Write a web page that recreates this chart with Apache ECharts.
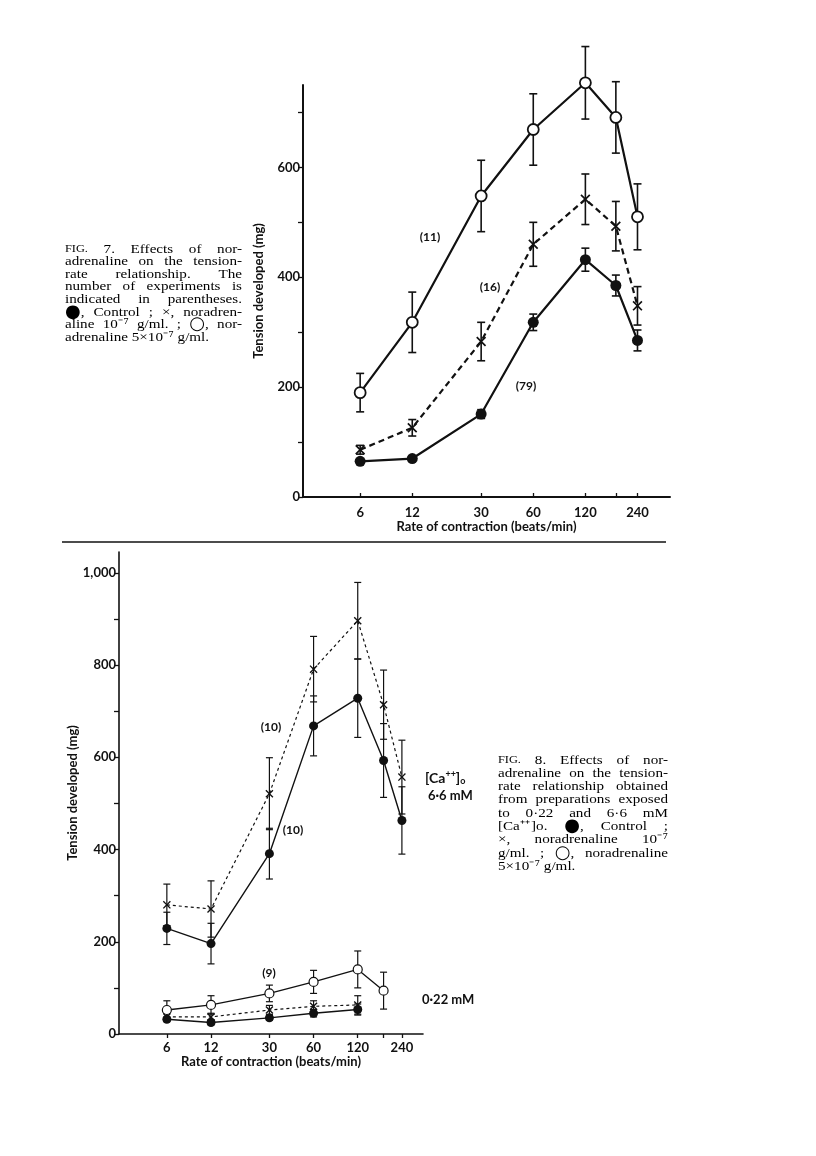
<!DOCTYPE html>
<html><head><meta charset="utf-8">
<script src="https://cdn.jsdelivr.net/npm/echarts@6/dist/echarts.min.js"></script>
<style>html,body{margin:0;padding:0;background:#fff}#c{width:816px;height:1156px}</style>
</head><body><div id="c"></div>
<script>
// ---------- DATA ----------
const rates = [6, 12, 30, 60, 120, 180, 240];
const xTickLabels = [6, 12, 30, 60, 120, 240];
const yTicksFig7 = [0, 100, 200, 300, 400, 500, 600, 700];
const yLabelsFig7 = [0, 200, 400, 600];
const yTicksFig8 = [0, 100, 200, 300, 400, 500, 600, 700, 800, 900, 1000];
const yLabelsFig8 = [0, 200, 400, 600, 800, 1000];

// Fig. 7
const f7Control = [65, 70, 151, 318, 432, 385, 285];
const f7ControlErr = [4, 4, 8, 15, 21, 19, 19];
const f7NA1 = [86, 126, 283, 460, 542, 493, 348];
const f7NA1Err = [8, 15, 35, 40, 46, 45, 35];
const f7NA5 = [190, 318, 548, 669, 754, 691, 510];
const f7NA5Err = [35, 55, 65, 65, 66, 65, 60];

// Fig. 8, [Ca++]o 6.6 mM
const f8HiControl = [229, 196, 391, 668, 728, 593, 463];
const f8HiControlErr = [35, 44, 55, 65, 85, 80, 73];
const f8HiNA1 = [280, 271, 521, 791, 896, 714, 557];
const f8HiNA1Err = [45, 61, 78, 71, 83, 75, 80];
// Fig. 8, [Ca++]o 0.22 mM
const f8LoNA5 = [52, 63, 88, 113, 140, 94];
const f8LoNA5Err = [20, 20, 18, 25, 40, 40];
const f8LoNA1 = [37, 37, 52, 60, 63];
const f8LoNA1Err = [8, 8, 10, 12, 20];
const f8LoControl = [32, 25, 35, 45, 53];
const f8LoControlErr = [5, 5, 5, 8, 12];

const fig7Caption = [
  "FIG. 7. Effects of nor-",
  "adrenaline on the tension-",
  "rate relationship. The",
  "number of experiments is",
  "indicated in parentheses.",
  "●, Control ; ×, noradren-",
  "aline 10⁻⁷ g/ml. ; ○, nor-",
  "adrenaline 5×10⁻⁷ g/ml."
];
const fig8Caption = [
  "FIG. 8. Effects of nor-",
  "adrenaline on the tension-",
  "rate relationship obtained",
  "from preparations exposed",
  "to 0·22 and 6·6 mM",
  "[Ca⁺⁺]o. ●, Control ;",
  "×, noradrenaline 10⁻⁷",
  "g/ml. ; ○, noradrenaline",
  "5×10⁻⁷ g/ml."
];

// ---------- BUILD ----------
const INK = '#111';
const L = v => Math.log10(v);
const pts = vals => vals.map((v, i) => [L(rates[i]), v]);
const errPts = (vals, errs) => vals.map((v, i) => [L(rates[i]), v, errs[i]]);
const CROSS = 'path://M0,1.2 L1.2,0 L5,3.8 L8.8,0 L10,1.2 L6.2,5 L10,8.8 L8.8,10 L5,6.2 L1.2,10 L0,8.8 L3.8,5 Z';

function errSeries(vals, errs, xi, cap, lw) {
  return {
    type: 'custom', xAxisIndex: xi, yAxisIndex: xi, clip: false, z: 1, silent: true,
    data: errPts(vals, errs), encode: { x: 0, y: 1 },
    renderItem: (params, api) => {
      const x = api.value(0), y = api.value(1), e = api.value(2);
      const t = api.coord([x, y + e]), b = api.coord([x, y - e]);
      const h = cap / 2, st = { stroke: INK, lineWidth: lw };
      return { type: 'group', children: [
        { type: 'line', shape: { x1: t[0], y1: t[1], x2: b[0], y2: b[1] }, style: st },
        { type: 'line', shape: { x1: t[0] - h, y1: t[1], x2: t[0] + h, y2: t[1] }, style: st },
        { type: 'line', shape: { x1: b[0] - h, y1: b[1], x2: b[0] + h, y2: b[1] }, style: st }
      ]};
    }
  };
}
function lineSeries(vals, xi, kind, dashed, lw, size) {
  const s = {
    type: 'line', xAxisIndex: xi, yAxisIndex: xi, data: pts(vals), clip: false, z: 3,
    lineStyle: { color: INK, width: lw, type: dashed ? (xi === 0 ? [6, 4] : [3, 3]) : 'solid' },
    symbolSize: size, symbolKeepAspect: true
  };
  if (kind === 'filled') { s.symbol = 'circle'; s.itemStyle = { color: INK, borderWidth: 0 }; }
  if (kind === 'open') { s.symbol = 'circle'; s.itemStyle = { color: '#fff', borderColor: INK, borderWidth: xi === 0 ? 1.8 : 1.2 }; }
  if (kind === 'cross') { s.symbol = CROSS; s.itemStyle = { color: INK, borderWidth: 0 }; }
  return s;
}

const tickFont = { fontFamily: 'Lato', fontWeight: 'bold', fontSize: 13, color: INK };
const nameFont = { fontFamily: 'Lato', fontWeight: 'bold', fontSize: 13, color: INK };

function xAxis(gi, min, max, aw, inside, margin, gap) {
  return {
    gridIndex: gi, type: 'value', min, max,
    axisLine: { show: true, lineStyle: { color: INK, width: aw } },
    axisTick: { show: true, inside, length: 4, customValues: rates.map(L), lineStyle: { color: INK, width: 1.3 } },
    axisLabel: { customValues: xTickLabels.map(L), formatter: v => String(Math.round(Math.pow(10, v))), margin, ...tickFont },
    splitLine: { show: false },
    name: 'Rate of contraction (beats/min)', nameLocation: 'middle', nameGap: gap, nameTextStyle: nameFont
  };
}
function yAxis(gi, max, ticks, labels, aw, gap) {
  return {
    gridIndex: gi, type: 'value', min: 0, max,
    axisLine: { show: true, lineStyle: { color: INK, width: aw } },
    axisTick: { show: true, length: 5, customValues: ticks, lineStyle: { color: INK, width: 1.3 } },
    axisLabel: { customValues: labels, margin: 3, formatter: v => v.toLocaleString('en-US'), ...tickFont },
    splitLine: { show: false },
    name: 'Tension developed (mg)', nameLocation: 'middle', nameGap: gap, nameTextStyle: nameFont
  };
}

// caption text, justified, slightly widened glyphs
const measCtx = document.createElement('canvas').getContext('2d');
function captionGraphics(lines, x0, x1, y0, dy, size, sx) {
  const out = [];
  const W = x1 - x0;
  lines.forEach((line, li) => {
    const words = line.split(' ').filter(w => w.length);
    const items = words.map(w => {
      const parts = [];
      if (/^[●○]/.test(w)) {
        parts.push({ t: w[0], font: Math.round(size * 1.3) + 'px "DejaVu Sans"', s: 1 });
        if (w.length > 1) parts.push({ t: w.slice(1), font: size + 'px "Liberation Serif"', s: sx });
      } else {
        const fs = (w === 'FIG.') ? Math.round(size * 0.78) : size;
        parts.push({ t: w, font: fs + 'px "Liberation Serif"', s: sx });
      }
      let width = 0;
      parts.forEach(p => { measCtx.font = p.font; p.w = measCtx.measureText(p.t).width * p.s; width += p.w; });
      return { parts, width };
    });
    measCtx.font = size + 'px "Liberation Serif"';
    const space = measCtx.measureText(' ').width * sx;
    const total = items.reduce((a, b) => a + b.width, 0);
    const last = li === lines.length - 1;
    let gap = (!last && items.length > 1) ? (W - total) / (items.length - 1) : space;
    if (gap < space * 0.6) gap = space * 0.6;
    let x = x0;
    const y = y0 + li * dy;
    items.forEach(it => {
      let px = x;
      it.parts.forEach(p => {
        out.push({ type: 'text', x: px, y, scaleX: p.s, silent: true,
          style: { text: p.t, font: p.font, fill: '#000', verticalAlign: 'middle', align: 'left' } });
        px += p.w;
      });
      x += it.width + gap;
    });
  });
  return out;
}
function label(text, x, y, align, size) {
  return { type: 'text', x, y, silent: true,
    style: { text, font: 'bold ' + (size || 12) + 'px Lato', fill: INK, align: align || 'center', verticalAlign: 'middle' } };
}

const graphics = [
  { type: 'line', shape: { x1: 62, y1: 542, x2: 666, y2: 542 }, style: { stroke: INK, lineWidth: 1.6 } },
  label('(11)', 430, 237), label('(16)', 490, 287), label('(79)', 526, 386),
  label('(10)', 271, 727), label('(10)', 293, 830), label('(9)', 269, 973),
  { type: 'text', x: 425, y: 778, silent: true, style: {
      text: '[Ca{sup|++}]{sub|o}', font: 'bold 14px Lato', fill: INK, verticalAlign: 'middle',
      rich: { sup: { fontSize: 9, fontFamily: 'Lato', fontWeight: 'bold', verticalAlign: 'top', lineHeight: 16 },
              sub: { fontSize: 9, fontFamily: 'Lato', fontWeight: 'bold', verticalAlign: 'bottom', lineHeight: 16 } } } },
  label('6·6 mM', 428, 796, 'left', 13),
  label('0·22 mM', 422, 1000, 'left', 13),
  ...captionGraphics(fig7Caption, 65, 242, 249, 12.6, 13.5, 1.12),
  ...captionGraphics(fig8Caption, 498, 668, 760, 13.3, 13.5, 1.12)
];

const option = {
  animation: false,
  backgroundColor: '#fff',
  grid: [
    { left: 303, top: 85, width: 367, height: 412 },
    { left: 119, top: 552, width: 304, height: 482 }
  ],
  xAxis: [
    xAxis(0, 0.448, 2.568, 2, true, 9, 22),
    xAxis(1, 0.452, 2.524, 1.6, false, 7, 20)
  ],
  yAxis: [
    yAxis(0, 750, yTicksFig7, yLabelsFig7, 2, 38),
    yAxis(1, 1045, yTicksFig8, yLabelsFig8, 1.6, 40)
  ],
  series: [
    errSeries(f7Control, f7ControlErr, 0, 8, 1.6),
    errSeries(f7NA1, f7NA1Err, 0, 8, 1.6),
    errSeries(f7NA5, f7NA5Err, 0, 8, 1.6),
    lineSeries(f7Control, 0, 'filled', false, 2.2, 11),
    lineSeries(f7NA1, 0, 'cross', true, 2.2, 10),
    lineSeries(f7NA5, 0, 'open', false, 2.2, 11),

    errSeries(f8HiControl, f8HiControlErr, 1, 7, 1.2),
    errSeries(f8HiNA1, f8HiNA1Err, 1, 7, 1.2),
    errSeries(f8LoNA5, f8LoNA5Err, 1, 7, 1.2),
    errSeries(f8LoNA1, f8LoNA1Err, 1, 7, 1.2),
    errSeries(f8LoControl, f8LoControlErr, 1, 7, 1.2),
    lineSeries(f8HiControl, 1, 'filled', false, 1.4, 9),
    lineSeries(f8HiNA1, 1, 'cross', true, 1.2, 8),
    lineSeries(f8LoNA5, 1, 'open', false, 1.3, 9),
    lineSeries(f8LoNA1, 1, 'cross', true, 1.2, 8),
    lineSeries(f8LoControl, 1, 'filled', false, 1.4, 9)
  ],
  graphic: graphics
};
const chart = echarts.init(document.getElementById('c'), null, { renderer: 'canvas' });
chart.setOption(option);
</script>
</body></html>
